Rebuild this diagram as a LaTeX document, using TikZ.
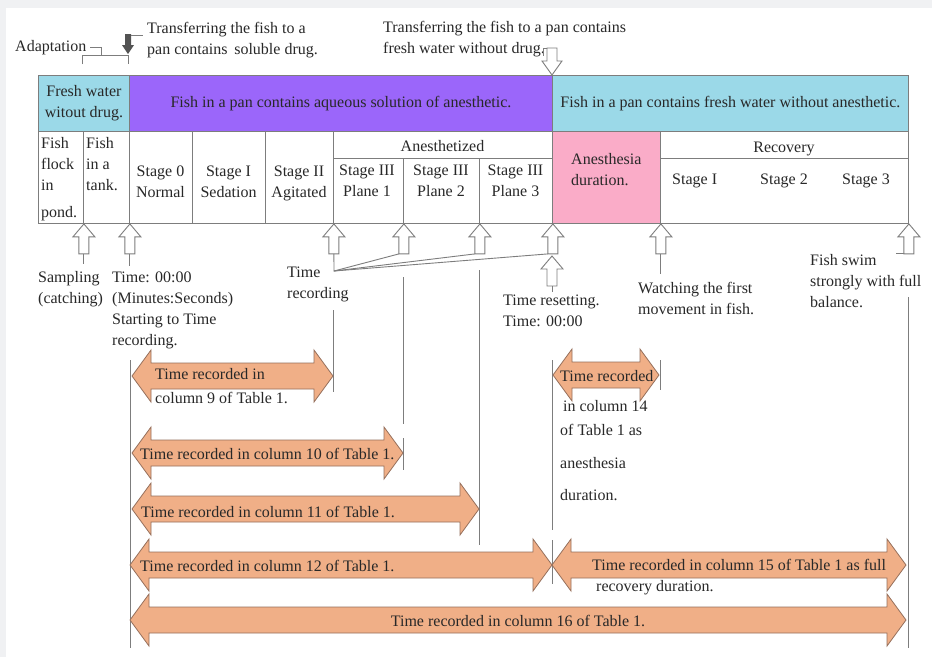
\documentclass[tikz,border=0pt]{standalone}
\usepackage{fontspec}
\setmainfont{Liberation Serif}
\usetikzlibrary{positioning}

\definecolor{watercyan}{RGB}{155,217,232}
\definecolor{drugpurple}{RGB}{155,102,250}
\definecolor{durpink}{RGB}{250,172,200}
\definecolor{barfill}{RGB}{240,175,135}
\definecolor{barline}{RGB}{150,112,92}
\definecolor{rule}{RGB}{125,125,125}
\definecolor{ink}{RGB}{40,40,40}
\definecolor{frame}{RGB}{240,241,243}

\begin{document}
\begin{tikzpicture}[x=1pt, y=-1pt,
  every node/.style={inner sep=0pt, text=ink, font=\fontsize{16}{21}\selectfont},
  cell/.style={draw=rule, line width=0.9pt, anchor=north west, align=center},
  txt/.style={align=left, anchor=north west, yshift=-4pt, execute at begin node=\strut},
  ctxt/.style={align=center, anchor=north, yshift=-4pt, execute at begin node=\strut},
  guide/.style={draw=rule, line width=0.9pt},
  bar/.style={draw=barline, fill=barfill, line width=0.8pt},
  uparrow/.pic={
    \draw[guide, fill=white] (0,0) -- (11,13) -- (5,13) -- (5,30) -- (-5,30) -- (-5,13) -- (-11,13) -- cycle;
    \coordinate (-foot) at (0,30);
    \coordinate (-heel) at (-5,30);
  },
  downarrow/.pic={
    \draw[guide, fill=white] (0,0) -- (10,-14) -- (5,-14) -- (5,-27) -- (-5,-27) -- (-5,-14) -- (-10,-14) -- cycle;
    \coordinate (-heel) at (-5,-27);
  },
  darkarrow/.pic={
    \fill[ink!80] (0,0) -- (6,-9) -- (3,-9) -- (3,-20) -- (-3,-20) -- (-3,-9) -- (-6,-9) -- cycle;
    \coordinate (-top) at (3,-19);
  }
]
\useasboundingbox (0,0) rectangle (932,657);
\fill[frame] (0,0) rectangle (932,657);
\fill[white] (6,8) rectangle (932,657);

% Top notes
\node[txt] (adapt) at (15,33) {Adaptation};
\node[txt] (tdrug) at (147,18) {Transferring the fish to a\\pan contains\, soluble drug.};
\node[txt] (tfresh) at (383,17) {Transferring the fish to a pan contains\\fresh water without drug.};
\pic (dk) at (128,54) {darkarrow};
\pic (d6) at (552,75) {downarrow};
\draw[guide] ([xshift=4pt]adapt.east) -- ++(11,0) -- ++(0,8);
\draw[guide] (82,64) -- (82,55) -- (128,55) -- (128,64);
\draw[guide] (dk-top) -- ([xshift=-4pt]tdrug.west |- dk-top);
\draw[guide] (d6-heel) -- ++(-4,0) -- ++(0,8);

% Table, top row
\node[cell, fill=watercyan, minimum width=91pt, minimum height=56pt] (fresh) at (38,75) {Fresh water\\witout drug.};
\node[cell, fill=drugpurple, minimum width=423pt, minimum height=56pt] (aqueous) at (129,75) {Fish in a pan contains aqueous solution of anesthetic.};
\node[cell, fill=watercyan, minimum width=356pt, minimum height=56pt] (clean) at (552,75) {Fish in a pan contains fresh water without anesthetic.};

% Table, bottom row
\node[cell, minimum width=45pt, minimum height=92pt] (pond) at (38,131) {};
\node[cell, minimum width=46pt, minimum height=92pt] (tank) at (83,131) {};
\node[cell, minimum width=63pt, minimum height=92pt] (s0) at (129,131) {};
\node[cell, minimum width=73pt, minimum height=92pt] (s1) at (192,131) {};
\node[cell, minimum width=68pt, minimum height=92pt] (s2) at (265,131) {};
\node[cell, minimum width=219pt, minimum height=27pt] (anes) at (333,131) {};
\node[cell, minimum width=70pt, minimum height=65pt] (p1) at (333,158) {};
\node[cell, minimum width=76pt, minimum height=65pt] (p2) at (403,158) {};
\node[cell, minimum width=73pt, minimum height=65pt] (p3) at (479,158) {};
\node[cell, fill=durpink, minimum width=108pt, minimum height=92pt] (pink) at (552,131) {};
\node[cell, minimum width=248pt, minimum height=27pt] (rechead) at (660,131) {};
\node[cell, minimum width=248pt, minimum height=65pt] (rec) at (660,158) {};

\node[txt] (pondtxt) at (41,133) {Fish\\flock\\in\\[6pt]pond.};
\node[txt] (tanktxt) at (86,133) {Fish\\in a\\tank.};
\node[ctxt] (s0txt) at (160.5,162) {Stage 0\\Normal};
\node[ctxt] (s1txt) at (228.5,162) {Stage I\\Sedation};
\node[ctxt] (s2txt) at (299,162) {Stage II\\Agitated};
\node[ctxt] (anestxt) at (442.5,133) {Anesthetized};
\node[ctxt] (p1txt) at (367,161) {Stage III\\Plane 1};
\node[ctxt] (p2txt) at (441,161) {Stage III\\Plane 2};
\node[ctxt] (p3txt) at (515.5,161) {Stage III\\Plane 3};
\node[txt] (pinktxt) at (571,149) {Anesthesia\\duration.};
\node[ctxt] (rectxt) at (784,134) {Recovery};
\node[txt] (r1) at (672,166) {Stage I};
\node[txt] (r2) at (760,166) {Stage 2};
\node[txt] (r3) at (842,166) {Stage 3};

% Hollow arrows under the table
\pic (a1) at (pond.south east) {uparrow};
\pic (a2) at (tank.south east) {uparrow};
\pic (a3) at (s2.south east) {uparrow};
\pic (a4) at (p1.south east) {uparrow};
\pic (a5) at (p2.south east) {uparrow};
\pic (a6) at (p3.south east) {uparrow};
\pic (a6b) at (552,256) {uparrow};
\pic (a7) at (pink.south east) {uparrow};
\pic (a8) at (rec.south east) {uparrow};

\coordinate (fan) at (334,271);
\draw[guide] (a1-foot) -- ++(0,10);
\draw[guide] (a2-foot) -- ++(0,12);
\draw[guide] (a3-foot) -- (fan) -- (a4-heel);
\draw[guide] (fan) -- (a5-heel);
\draw[guide] (fan) -- (a6-heel);
\draw[guide] (a6b-foot) -- ++(0,6);
\draw[guide] (a7-foot) -- ++(0,20);
\draw[guide] (a8-heel) -- ++(-8,0);

% Notes under the arrows
\node[txt] (sampling) at (38,267) {Sampling\\(catching)};
\node[txt] (tzero) at (112,268) {Time: 00:00\\(Minutes:Seconds)\\Starting to Time\\recording.};
\node[txt] (trec) at (287,263) {Time\\recording};
\node[txt] (treset) at (503,291) {Time resetting.\\Time: 00:00};
\node[txt] (watch) at (638,278) {Watching the first\\movement in fish.};
\node[txt] (swim) at (810,250) {Fish swim\\strongly with full\\balance.};

% Guide lines
\draw[guide] (130,360) -- (130,648);
\draw[guide] (333,310) -- (333,392);
\draw[guide] (403,277) -- (403,424);
\draw[guide] (403,438) -- (403,470);
\draw[guide] (479,270) -- (479,545);
\draw[guide] (552,360) -- (552,530);
\draw[guide] (552,540) -- (552,584);
\draw[guide] (660,360) -- (660,390);
\draw[guide] (908,297) -- (908,648);

% Time bars
\foreach \xa/\xb/\ym in {132/333/376, 132/403/453, 132/479/509, 130/552/565, 552/906/565, 130/906/620, 553/659/375}
  \draw[bar] (\xa,\ym) -- ({\xa+19},{\ym-26}) -- ({\xa+19},{\ym-13}) -- ({\xb-19},{\ym-13}) -- ({\xb-19},{\ym-26}) -- (\xb,\ym) -- ({\xb-19},{\ym+26}) -- ({\xb-19},{\ym+13}) -- ({\xa+19},{\ym+13}) -- ({\xa+19},{\ym+26}) -- cycle;

\node[txt] (c9) at (155,364) {Time recorded in\\[3pt]column 9 of Table 1.};
\node[txt] (c10) at (140,441) {Time recorded in column 10 of Table 1.};
\node[txt] (c11) at (141,499) {Time recorded in column 11 of Table 1.};
\node[txt] (c12) at (140,553) {Time recorded in column 12 of Table 1.};
\node[txt] (c15) at (592,555) {Time recorded in column 15 of Table 1 as full\\\hspace*{4pt}recovery duration.};
\node[ctxt] (c16) at (518,608) {Time recorded in column 16 of Table 1.};
\node[txt] (c14) at (560,363) {Time recorded};
\node[txt] (c14note) at (560,396) {\hspace*{3pt}in column 14\\[3pt]of Table 1 as\\[12pt]anesthesia\\[11pt]duration.};
\end{tikzpicture}
\end{document}
